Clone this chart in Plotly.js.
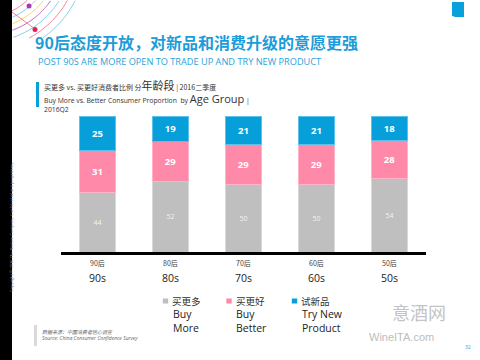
<!DOCTYPE html>
<html><head><meta charset="utf-8">
<script src="https://cdn.plot.ly/plotly-3.0.1.min.js"></script>
<style>html,body{margin:0;padding:0;background:#fff}#c{width:480px;height:360px}</style>
</head><body><div id="c"></div>
<script>
// ---- data ----
const categories = ["90后", "80后", "70后", "60后", "50后"];
const categoriesEn = ["90s", "80s", "70s", "60s", "50s"];
const buyMore = [44, 52, 50, 50, 54];
const buyBetter = [31, 29, 29, 29, 28];
const tryNew = [25, 19, 21, 21, 18];
const seriesCn = ["买更多", "买更好", "试新品"];
const seriesEn = ["Buy<br>More", "Buy<br>Better", "Try New<br>Product"];

// ---- layout helpers (pixel -> paper) ----
const L = 61, R = 54, T = 116, B = 108, W = 480 - L - R, H = 360 - T - B;
const px = v => (v - L) / W;
const py = v => (360 - B - v) / H;

const colors = ["#BFBFBF", "#FF89A9", "#069FDA"];
const lineCols = ["#D9D9D9", "#FFB3C6", "#5CC2EC"];
const font = "Open Sans, Noto Sans CJK SC, sans-serif";
const cjk = "Noto Sans CJK SC, Open Sans, sans-serif";

function bar(vals, i, textFont) {
  return {
    type: "bar", x: categories, y: vals, name: seriesCn[i],
    marker: {color: colors[i], line: {color: lineCols[i], width: 1}},
    text: vals.map(String), textposition: "inside", insidetextanchor: "middle",
    textfont: textFont, showlegend: false, hoverinfo: "skip", constraintext: "none"
  };
}
const data = [
  bar(buyMore, 0, {family: font, size: 7, color: "#F2F2F2"}),
  bar(buyBetter, 1, {family: font, size: 9.5, color: "#FFFFFF", weight: 700}),
  bar(tryNew, 2, {family: font, size: 9.5, color: "#FFFFFF", weight: 700})
];

const ann = [];
const shapes = [];
// category labels (two lines)
categories.forEach((c, i) => {
  ann.push({x: c, y: 0, xref: "x", yref: "paper", yshift: -11, yanchor: "middle", showarrow: false,
    text: c, font: {family: cjk, size: 7, color: "#404040"}});
  ann.push({x: c, y: 0, xref: "x", yref: "paper", yshift: -26, yanchor: "middle", showarrow: false,
    text: categoriesEn[i], font: {family: font, size: 10.5, color: "#222"}});
});
// custom legend
const legX = [165.5, 229, 294.5];
seriesCn.forEach((s, i) => {
  shapes.push({type: "rect", xref: "paper", yref: "paper", x0: px(legX[i] - 2.7), x1: px(legX[i] + 2.7),
    y0: py(298.5), y1: py(303.5), fillcolor: colors[i], line: {width: 0}});
  ann.push({x: px(legX[i] + 4.5), y: py(301), xref: "paper", yref: "paper", xanchor: "left", yanchor: "middle",
    showarrow: false, text: s, font: {family: cjk, size: 9.5, color: "#333"}});
  ann.push({x: px(legX[i] + 5), y: py(320.5), xref: "paper", yref: "paper", xanchor: "left", yanchor: "middle",
    align: "left", showarrow: false, text: seriesEn[i], font: {family: font, size: 10.5, color: "#222"}});
});

// left black strip
shapes.push({type: "rect", xref: "paper", yref: "paper", x0: px(0), x1: px(12), y0: py(360), y1: py(0),
  fillcolor: "#000", line: {width: 0}, layer: "below"});
ann.push({x: px(6.5), y: py(294), xref: "paper", yref: "paper", textangle: -90, showarrow: false,
  text: "Copyright © 2016 The Nielsen Company. Confidential and proprietary.",
  font: {family: font, size: 4, color: "#8a8a8a"}});

// decorative arcs top-left
const arcCols = ["#F4708F", "#6CC8F0", "#F5D33F", "#B455B6", "#6CC8F0", "#F4708F", "#6CC8F0"];
const cx = -15, cy = -45;
[62, 68, 74, 80, 87, 94, 101].forEach((r, k) => {
  let pts = [];
  for (let a = 0; a <= 90; a += 1) {
    const t = a * Math.PI / 180;
    const xx = cx + r * Math.cos(t), yy = cy + r * Math.sin(t);
    if (xx >= 12 && yy >= 0 && yy <= 38 && xx <= 90) pts.push([xx, yy]);
  }
  if (pts.length > 1) {
    const d = "M" + pts.map(p => px(p[0]).toFixed(5) + "," + py(p[1]).toFixed(5)).join(" L");
    shapes.push({type: "path", xref: "paper", yref: "paper", path: d, line: {color: arcCols[k], width: 0.9}});
  }
});
shapes.push({type: "line", xref: "paper", yref: "paper", x0: px(12), y0: py(12), x1: px(35), y1: py(29),
  line: {color: "#E9657E", width: 0.8}});
shapes.push({type: "circle", xref: "paper", yref: "paper", x0: px(26.5), x1: px(31.5), y0: py(3.5), y1: py(8.5),
  fillcolor: "#A63AAE", line: {width: 0}});
shapes.push({type: "circle", xref: "paper", yref: "paper", x0: px(32.5), x1: px(37.5), y0: py(27), y1: py(32),
  fillcolor: "#E5204F", line: {width: 0}});

// subtitle
ann.push({x: px(36), y: py(61), xref: "paper", yref: "paper", xanchor: "left", yanchor: "middle", showarrow: false,
  text: "POST 90S ARE MORE OPEN TO TRADE UP AND TRY NEW PRODUCT", font: {family: font, size: 9.2, color: "#2AA3DB"}});

// chart caption box
shapes.push({type: "rect", xref: "paper", yref: "paper", x0: px(36), x1: px(39), y0: py(107), y1: py(82),
  fillcolor: "#069FDA", line: {width: 0}});
ann.push({x: px(42), y: py(85), xref: "paper", yref: "paper", xanchor: "left", yanchor: "middle", showarrow: false,
  text: "买更多 vs. 买更好消费者比例 分<span style='font-size:11px'>年龄段</span> | 2016二季度",
  font: {family: cjk, size: 7, color: "#333"}});
ann.push({x: px(42), y: py(98), xref: "paper", yref: "paper", xanchor: "left", yanchor: "middle", showarrow: false,
  text: "Buy More vs. Better Consumer Proportion  by <span style='font-size:11px'>Age Group</span> |",
  font: {family: font, size: 6.8, color: "#333"}});
ann.push({x: px(42), y: py(110), xref: "paper", yref: "paper", xanchor: "left", yanchor: "middle", showarrow: false,
  text: "2016Q2", font: {family: font, size: 6.8, color: "#333"}});

// source
shapes.push({type: "rect", xref: "paper", yref: "paper", x0: px(34), x1: px(37), y0: py(346), y1: py(325),
  fillcolor: "#D9D9D9", line: {width: 0}});
ann.push({x: px(40), y: py(331), xref: "paper", yref: "paper", xanchor: "left", yanchor: "middle", showarrow: false,
  text: "<i>数据来源：中国消费者信心调查</i>", font: {family: cjk, size: 5, color: "#666"}});
ann.push({x: px(40), y: py(338), xref: "paper", yref: "paper", xanchor: "left", yanchor: "middle", showarrow: false,
  text: "<i>Source: China Consumer Confidence Survey</i>", font: {family: font, size: 5, color: "#666"}});

// logo
shapes.push({type: "rect", xref: "paper", yref: "paper", x0: px(452), x1: px(464), y0: py(17), y1: py(2),
  fillcolor: "#0AA0DC", line: {width: 0}});
ann.push({x: px(458), y: py(10), xref: "paper", yref: "paper", showarrow: false, text: "<b>n</b>",
  font: {family: "DejaVu Serif, serif", size: 10, color: "#fff"}});

// watermark + page number
ann.push({x: px(448), y: py(327), xref: "paper", yref: "paper", showarrow: false, text: "意酒网",
  font: {family: cjk, size: 18, color: "#C4C4C4"}});
ann.push({x: px(436), y: py(345), xref: "paper", yref: "paper", showarrow: false, text: "WineITA.com",
  font: {family: "Liberation Sans, Arial, sans-serif", size: 11, color: "#BDBDBD"}});
ann.push({x: px(473), y: py(352), xref: "paper", yref: "paper", showarrow: false, text: "32",
  font: {family: font, size: 5, color: "#2AA3DB"}});

const layout = {
  width: 480, height: 360,
  margin: {l: L, r: R, t: T, b: B, pad: 0},
  paper_bgcolor: "#fff", plot_bgcolor: "#fff",
  barmode: "stack", bargap: 0.5,
  showlegend: false,
  title: {text: "<b>90后态度开放，对新品和消费升级的意愿更强</b>", x: 35 / 480, xanchor: "left", xref: "container",
    y: 1 - 43 / 360, yanchor: "middle", yref: "container",
    font: {family: cjk, size: 16, color: "#1C9CD8"}},
  xaxis: {type: "category", range: [-0.5, 4.5], showline: true, linecolor: "#000", linewidth: 3,
    showticklabels: false, ticks: "", showgrid: false, zeroline: false, fixedrange: true},
  yaxis: {range: [0, 100], visible: false, showgrid: false, zeroline: false, fixedrange: true},
  annotations: ann, shapes: shapes,
  uniformtext: {mode: false}
};
Plotly.newPlot("c", data, layout, {displayModeBar: false, staticPlot: true});
</script>
</body></html>
